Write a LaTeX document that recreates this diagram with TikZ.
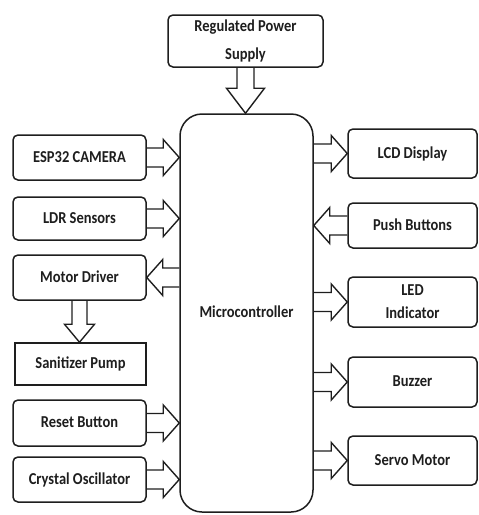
\documentclass[tikz,border=0pt]{standalone}
\usepackage{fontspec}
\setmainfont{Carlito}
\usetikzlibrary{calc}
\definecolor{ink}{HTML}{1E1E1E}
\newcommand\lbl[1]{\scalebox{1}[1.15]{\begin{tabular}{@{}c@{}}#1\end{tabular}}}
% horizontal block arrow: start, end
\newcommand\harrow[2]{\draw[blk] let \p1=(#1), \p2=(#2), \n1={ifthenelse(\x2>\x1,1,-1)} in
  (\x1,{\y1+9.5pt}) -- ({\x2-\n1*16pt},{\y1+9.5pt}) -- ({\x2-\n1*16pt},{\y1+18pt}) -- (\x2,\y1)
  -- ({\x2-\n1*16pt},{\y1-18pt}) -- ({\x2-\n1*16pt},{\y1-9.5pt}) -- (\x1,{\y1-9.5pt});}
% vertical (downward) block arrow: start, end, stem half, head half, head length
\newcommand\varrow[5]{\draw[blk] let \p1=(#1), \p2=(#2) in
  ({\x1-#3pt},\y1) -- ({\x1-#3pt},{\y2+#5pt}) -- ({\x1-#4pt},{\y2+#5pt}) -- (\x1,\y2)
  -- ({\x1+#4pt},{\y2+#5pt}) -- ({\x1+#3pt},{\y2+#5pt}) -- ({\x1+#3pt},\y1);}
\begin{document}
\begin{tikzpicture}[x=1pt,y=-1pt,
  box/.style={draw=ink, line width=1.5pt, rounded corners=5pt, fill=white, inner sep=0pt,
    font=\fontsize{14.5}{20}\selectfont\bfseries, text=ink},
  lbox/.style={box, minimum width=133pt, minimum height=45pt},
  rbox/.style={box, minimum width=129pt},
  blk/.style={draw=ink, line width=1.4pt, line join=miter}]
\useasboundingbox (0,0) rectangle (479,515);
\node[box, minimum width=155pt, minimum height=52pt] (ps) at (245.5,41) {\lbl{Regulated Power\\[4pt]Supply}};
\node[box, rounded corners=22pt, minimum width=133pt, minimum height=398pt] (mc) at (246.5,313) {\lbl{Microcontroller}};
\node[lbox] (esp) at (79.5,157.5) {\lbl{ESP32 CAMERA}};
\node[lbox, minimum height=43pt] (ldr) at (79.5,218.5) {\lbl{LDR Sensors}};
\node[lbox] (md) at (79.5,277.5) {\lbl{Motor Driver}};
\node[lbox, rounded corners=0pt, minimum width=131pt, minimum height=42pt] (pump) at (80.5,364) {\lbl{Sanitizer Pump}};
\node[lbox, minimum height=46pt] (reset) at (79.5,423) {\lbl{Reset Button}};
\node[lbox] (xtal) at (79.5,479.5) {\lbl{Crystal Oscillator}};
\node[rbox, minimum height=49pt] (lcd) at (412.5,153.5) {\lbl{LCD Display}};
\node[rbox, minimum height=45pt] (push) at (412.5,225.5) {\lbl{Push Buttons}};
\node[rbox, minimum height=50pt] (led) at (412.5,302) {\lbl{LED\\Indicator}};
\node[rbox, minimum height=50pt] (buz) at (412.5,382) {\lbl{Buzzer}};
\node[rbox, minimum height=49pt] (servo) at (412.5,460.5) {\lbl{Servo Motor}};
% arrows
\varrow{ps.south}{mc.north}{8.5}{19}{25}
\varrow{md.south}{pump.north}{7.5}{15}{18}
\harrow{esp.east}{mc.west |- esp.east}
\harrow{ldr.east}{mc.west |- ldr.east}
\harrow{mc.west |- md.east}{md.east}
\harrow{reset.east}{mc.west |- reset.east}
\harrow{xtal.east}{mc.west |- xtal.east}
\harrow{mc.east |- lcd.west}{lcd.west}
\harrow{push.west}{mc.east |- push.west}
\harrow{mc.east |- led.west}{led.west}
\harrow{mc.east |- buz.west}{buz.west}
\harrow{mc.east |- servo.west}{servo.west}
\end{tikzpicture}
\end{document}
